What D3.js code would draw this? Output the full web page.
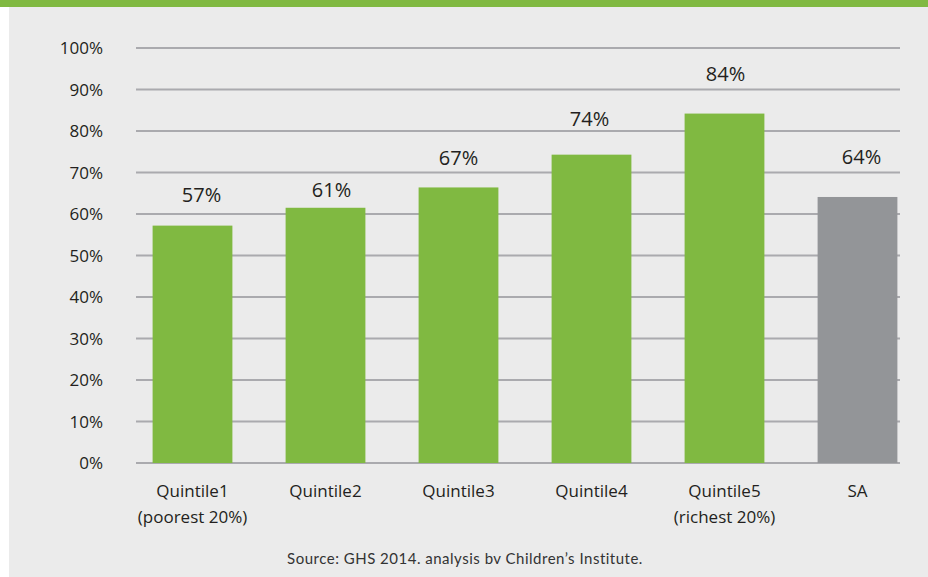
<!DOCTYPE html>
<html>
<head>
<meta charset="utf-8">
<script src="https://cdn.jsdelivr.net/npm/d3@7"></script>
<style>
  html, body { margin: 0; padding: 0; background: #fff; }
  svg { display: block; }
</style>
</head>
<body>
<svg id="chart" width="928" height="577"></svg>
<script>
// chart data
const categories = ['Quintile1|(poorest 20%)', 'Quintile2', 'Quintile3', 'Quintile4', 'Quintile5|(richest 20%)', 'SA'];
const values = [57.2, 61.5, 66.4, 74.3, 84.2, 64.1];
const valueLabels = ['57%', '61%', '67%', '74%', '84%', '64%'];
const yTicks = [0, 10, 20, 30, 40, 50, 60, 70, 80, 90, 100];
const sourceText = 'Source: GHS 2014. analysis bv Children\u2019s Institute.';

// styling / label nudges (the original places labels by hand)
const barColors = ['#80b941', '#80b941', '#80b941', '#80b941', '#80b941', '#939598'];
const labelGap = [24, 11, 22, 29, 33, 33];
const labelDx = [9, 6, 0, -2, 1, 4];

const width = 928, height = 577;
const svg = d3.select('#chart');

// background panel and top green stripe
svg.append('rect').attr('x', 9).attr('y', 0).attr('width', width - 9).attr('height', height).attr('fill', '#ebebeb');
svg.append('rect').attr('x', 0).attr('y', 0).attr('width', width).attr('height', 7).attr('fill', '#80b941');

const x = d3.scaleBand()
    .domain(categories)
    .range([126, 924])
    .paddingInner(0.4)
    .paddingOuter(0.2);

const y = d3.scaleLinear().domain([0, 100]).range([463, 48]);

// gridlines
svg.append('g')
    .selectAll('line')
    .data(yTicks)
    .enter().append('line')
    .attr('x1', 136)
    .attr('x2', 900)
    .attr('y1', d => y(d))
    .attr('y2', d => y(d))
    .attr('stroke', '#aaaaae')
    .attr('stroke-width', 2);

// y tick labels
svg.append('g')
    .selectAll('text')
    .data(yTicks)
    .enter().append('text')
    .attr('x', 103)
    .attr('y', d => y(d) + 6)
    .attr('text-anchor', 'end')
    .attr('font-family', 'Open Sans')
    .attr('font-size', '17px')
    .attr('fill', '#231f20')
    .text(d => d + '%');

// bars
svg.append('g')
    .selectAll('rect')
    .data(values)
    .enter().append('rect')
    .attr('x', (d, i) => x(categories[i]))
    .attr('y', d => y(d))
    .attr('width', x.bandwidth())
    .attr('height', d => y(0) - y(d))
    .attr('fill', (d, i) => barColors[i]);

// value labels
svg.append('g')
    .selectAll('text')
    .data(values)
    .enter().append('text')
    .attr('x', (d, i) => x(categories[i]) + x.bandwidth() / 2 + labelDx[i])
    .attr('y', (d, i) => y(d) - labelGap[i])
    .attr('text-anchor', 'middle')
    .attr('font-family', 'Open Sans')
    .attr('font-size', '20px')
    .attr('fill', '#231f20')
    .text((d, i) => valueLabels[i]);

// category labels (two lines where needed)
const cat = svg.append('g')
    .selectAll('text')
    .data(categories)
    .enter().append('text')
    .attr('x', d => x(d) + x.bandwidth() / 2)
    .attr('y', 497)
    .attr('text-anchor', 'middle')
    .attr('font-family', 'Open Sans')
    .attr('font-size', '17px')
    .attr('fill', '#231f20');

cat.selectAll('tspan')
    .data(d => d.split('|'))
    .enter().append('tspan')
    .attr('x', function() { return this.parentNode.getAttribute('x'); })
    .attr('dy', (d, i) => i === 0 ? 0 : 26)
    .text(d => d);

// source
svg.append('text')
    .attr('x', 465)
    .attr('y', 564)
    .attr('text-anchor', 'middle')
    .attr('font-family', 'Lato')
    .attr('font-size', '15px')
    .attr('letter-spacing', '0.5px')
    .attr('fill', '#333')
    .text(sourceText);
</script>
</body>
</html>
